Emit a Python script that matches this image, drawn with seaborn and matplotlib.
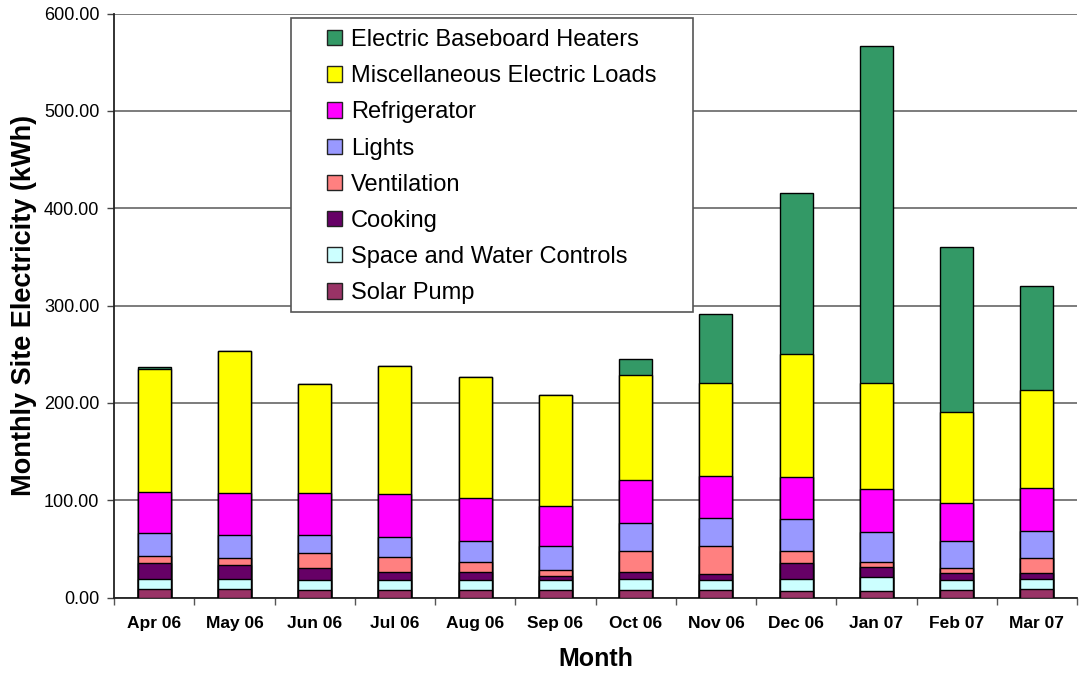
import numpy as np
import pandas as pd
import seaborn as sns
import matplotlib
matplotlib.use("Agg")
import matplotlib.pyplot as plt
from matplotlib.patches import Patch, Rectangle

# monthly site electricity by end use (kWh)
months = ["Apr 06", "May 06", "Jun 06", "Jul 06", "Aug 06", "Sep 06",
          "Oct 06", "Nov 06", "Dec 06", "Jan 07", "Feb 07", "Mar 07"]
solar_pump = [9.2, 9.2, 7.8, 7.8, 7.8, 7.8, 7.8, 7.8, 6.8, 6.8, 7.8, 9.2]
space_water = [10.3, 10.3, 10.3, 10.3, 10.3, 10.3, 11.7, 10.3, 12.7, 14.0, 10.3, 10.3]
cooking = [16.0, 14.3, 11.9, 8.2, 7.8, 4.4, 6.8, 5.8, 16.0, 10.6, 6.8, 5.8]
ventilation = [7.5, 6.5, 15.4, 15.0, 10.3, 6.2, 21.8, 28.7, 12.6, 4.8, 5.1, 15.0]
lights = [23.2, 24.5, 19.4, 21.2, 22.2, 24.9, 28.4, 29.3, 32.4, 31.4, 28.4, 28.6]
refrigerator = [42.7, 42.7, 42.7, 43.6, 44.3, 40.9, 44.3, 42.7, 43.0, 43.7, 39.2, 44.1]
misc_loads = [126.1, 146.0, 111.9, 131.9, 124.3, 114.0, 107.9, 95.4, 127.3, 108.7, 92.8, 100.7]
baseboard = [1.5, 0.0, 0.0, 0.0, 0.0, 0.0, 16.3, 71.7, 164.8, 347.0, 169.9, 106.0]

series_names = ["Solar Pump", "Space and Water Controls", "Cooking", "Ventilation",
                "Lights", "Refrigerator", "Miscellaneous Electric Loads",
                "Electric Baseboard Heaters"]
series_values = [solar_pump, space_water, cooking, ventilation,
                 lights, refrigerator, misc_loads, baseboard]
colors = ["#993366", "#CCFFFF", "#660066", "#FF8080",
          "#9999FF", "#FF00FF", "#FFFF00", "#339966"]

df = pd.DataFrame(dict(zip(series_names, series_values)), index=months)
cum = df.cumsum(axis=1)

sns.set_theme(style="white")
plt.rcParams["font.family"] = ["Liberation Sans", "DejaVu Sans"]
plt.rcParams["text.color"] = "black"
plt.rcParams["axes.labelcolor"] = "black"
plt.rcParams["xtick.color"] = "black"
plt.rcParams["ytick.color"] = "black"

fig = plt.figure(figsize=(10.82, 6.74), dpi=100)
ax = fig.add_axes([114 / 1082, 1 - 597.7 / 674, 963 / 1082, 584.2 / 674])

# stacked bars: draw cumulative totals from the top layer down
for name, color in reversed(list(zip(series_names, colors))):
    sns.barplot(x=months, y=cum[name].values, order=months, color=color,
                width=0.41, edgecolor="black", linewidth=1.0, saturation=1,
                ax=ax, zorder=3)

ax.set_ylim(0, 600)
ax.set_xlim(-0.5, 11.5)
ax.set_yticks(np.arange(0, 601, 100))
ax.set_yticklabels([f"{v:.2f}" for v in np.arange(0, 601, 100)], fontsize=13)
ax.set_xticks(range(len(months)))
ax.set_xticklabels(months, fontsize=12.5, fontweight="bold")
ax.set_xticks(np.arange(-0.5, 12, 1), minor=True)
ax.tick_params(axis="x", which="major", length=0, pad=13)
ax.tick_params(axis="x", which="minor", length=5, width=1, color="#555555",
               direction="out", bottom=True)
ax.tick_params(axis="y", length=5, width=1, color="#444444", direction="out",
               left=True, pad=5.5)
ax.grid(axis="y", color="#666666", linewidth=1.2, zorder=0)
ax.set_axisbelow(True)
for s in ["top", "right"]:
    ax.spines[s].set_visible(False)
for s in ["left", "bottom"]:
    ax.spines[s].set_color("#222222")
    ax.spines[s].set_linewidth(1.3)

ax.set_xlabel("Month", fontsize=18, fontweight="bold", labelpad=12)
ax.set_ylabel("Monthly Site Electricity (kWh)", fontsize=19.5,
              fontweight="bold", labelpad=5)

# legend box (white panel over the gridlines)
box = Rectangle((291 / 1082, 1 - 312 / 674), 402 / 1082, 294 / 674,
                transform=fig.transFigure, facecolor="white",
                edgecolor="#555555", linewidth=1.2, zorder=2)
fig.patches.append(box)
handles = [Patch(facecolor=c, edgecolor="#222222", linewidth=1.0)
           for c in reversed(colors)]
fig.legend(handles, list(reversed(series_names)), loc="upper left",
           bbox_to_anchor=(327 / 1082, 1 - 29 / 674), frameon=False,
           fontsize=17, borderpad=0, borderaxespad=0, handlelength=0.62,
           handleheight=0.62, handletextpad=0.4, labelspacing=0.6)

fig.savefig("out.png", dpi=100)
